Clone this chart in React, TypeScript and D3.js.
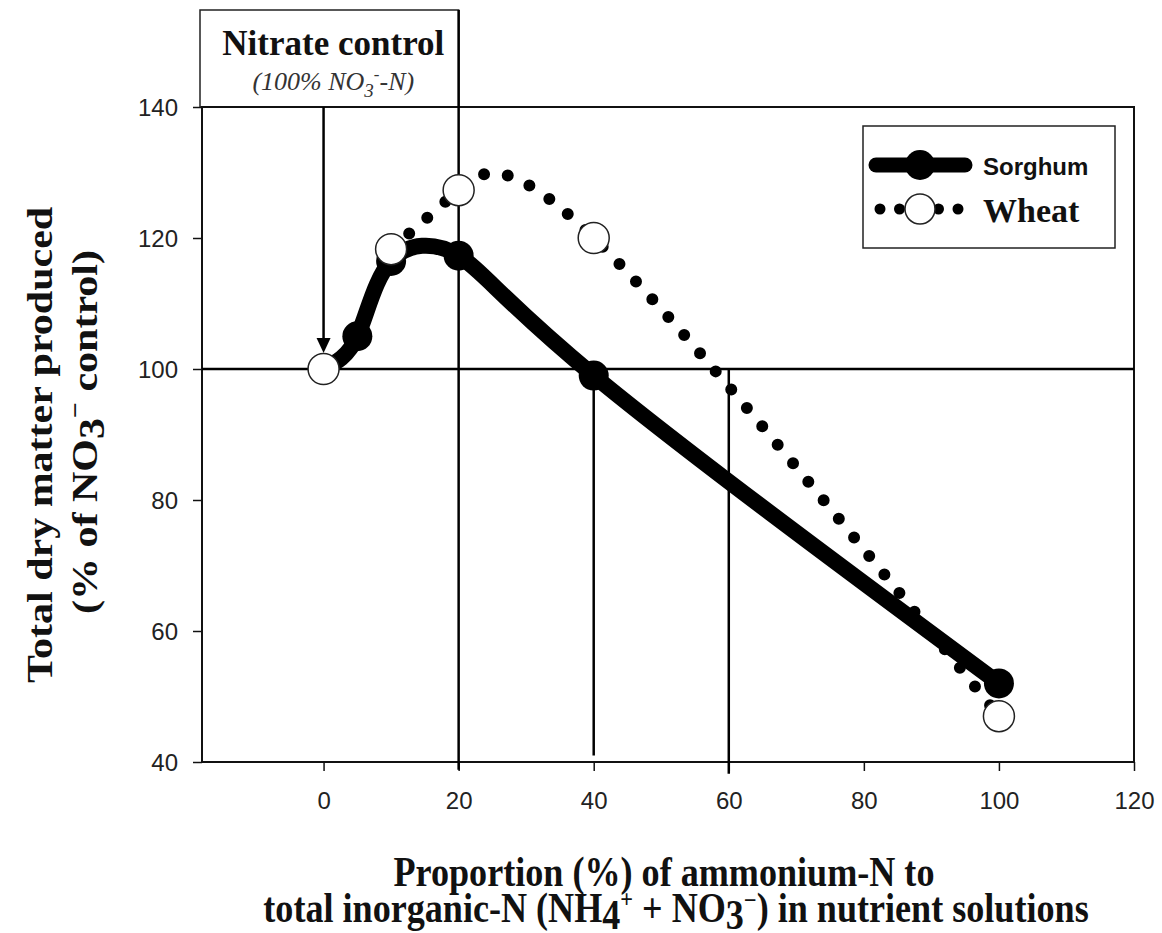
import React, { useEffect, useRef } from "react";
import * as d3 from "d3";

// proportion of NH4-N (%) and dry matter (% of nitrate control)
const sorghumPct = [0, 5, 10, 20, 40, 100];
const sorghumValues = [100, 105, 116.5, 117.3, 99, 52];
const wheatPct = [0, 10, 20, 40, 100];
const wheatValues = [100, 118.3, 127.3, 120, 47];

const xTicks = [0, 20, 40, 60, 80, 100, 120];
const yTicks = [40, 60, 80, 100, 120, 140];

// guide lines drawn on the plot
const guideY = 100;
const guideX = [20, 40, 60];
const guideFrom = [140, 100, 100];
const guideTo = [38.8, 41, 38.2];
const arrowX = 0;

const W = 1162;
const H = 933;
const margin = { top: 107, right: 28, bottom: 171, left: 202 };

const serif = "'Liberation Serif', 'Times New Roman', serif";
const sans = "'Liberation Sans', Arial, sans-serif";

export default function App() {
  const ref = useRef<SVGSVGElement>(null);

  useEffect(() => {
    const svg = d3.select(ref.current);
    svg.selectAll("*").remove();

    const x = d3.scaleLinear().domain([-18, 120]).range([margin.left, W - margin.right]);
    const y = d3.scaleLinear().domain([40, 140]).range([H - margin.bottom, margin.top]);

    const sorghum = sorghumPct.map((p, i) => [p, sorghumValues[i]] as [number, number]);
    const wheat = wheatPct.map((p, i) => [p, wheatValues[i]] as [number, number]);

    // nitrate control box above the plot
    const box = svg.append("g");
    box
      .append("rect")
      .attr("x", x(-18) - 2)
      .attr("y", 10)
      .attr("width", x(20) - x(-18) + 2)
      .attr("height", y(140) - 10)
      .attr("fill", "white")
      .attr("stroke", "#222")
      .attr("stroke-width", 1.5);
    const bx = (x(-18) + x(20)) / 2 + 3;
    box
      .append("text")
      .attr("x", bx)
      .attr("y", 55)
      .attr("text-anchor", "middle")
      .attr("font-family", serif)
      .attr("font-weight", "bold")
      .attr("font-size", 35)
      .attr("fill", "#111")
      .text("Nitrate control");
    const sub = box
      .append("text")
      .attr("x", bx)
      .attr("y", 90)
      .attr("text-anchor", "middle")
      .attr("font-family", serif)
      .attr("font-style", "italic")
      .attr("font-size", 26)
      .attr("fill", "#333");
    sub.append("tspan").text("(100% NO");
    sub.append("tspan").attr("dy", 7).attr("font-size", 19).text("3");
    sub.append("tspan").attr("dy", -17).attr("font-size", 17).text("-");
    sub.append("tspan").attr("dy", 10).text("-N)");

    // plot frame
    svg
      .append("rect")
      .attr("x", x(-18))
      .attr("y", y(140))
      .attr("width", x(120) - x(-18))
      .attr("height", y(40) - y(140))
      .attr("fill", "none")
      .attr("stroke", "#111")
      .attr("stroke-width", 2);

    const xAxis = svg
      .append("g")
      .attr("transform", `translate(0,${y(40)})`)
      .call(d3.axisBottom(x).tickValues(xTicks).tickSize(9).tickPadding(21).tickFormat(d3.format("d")));
    const yAxis = svg
      .append("g")
      .attr("transform", `translate(${x(-18)},0)`)
      .call(d3.axisLeft(y).tickValues(yTicks).tickSize(9).tickPadding(15).tickFormat(d3.format("d")));
    [xAxis, yAxis].forEach((g) => {
      g.select(".domain").remove();
      g.selectAll("line").attr("stroke", "#111").attr("stroke-width", 1.5);
      g.selectAll("text")
        .attr("font-family", sans)
        .attr("font-size", 24)
        .attr("fill", "#222");
    });
    yAxis.selectAll("text").attr("dy", "0.35em");

    // guide lines
    svg
      .append("line")
      .attr("x1", x(-18))
      .attr("x2", x(120))
      .attr("y1", y(guideY))
      .attr("y2", y(guideY))
      .attr("stroke", "#000")
      .attr("stroke-width", 2.5);
    guideX.forEach((gx, i) => {
      svg
        .append("line")
        .attr("x1", x(gx))
        .attr("x2", x(gx))
        .attr("y1", i === 0 ? 10 : y(guideFrom[i]))
        .attr("y2", y(guideTo[i]))
        .attr("stroke", "#000")
        .attr("stroke-width", 2.5);
    });

    // arrow to the control point
    const tipY = y(100) - 16;
    svg
      .append("line")
      .attr("x1", x(arrowX))
      .attr("x2", x(arrowX))
      .attr("y1", y(140))
      .attr("y2", tipY - 10)
      .attr("stroke", "#000")
      .attr("stroke-width", 2.5);
    svg
      .append("path")
      .attr("d", `M${x(arrowX)},${tipY}L${x(arrowX) - 7},${tipY - 15}L${x(arrowX) + 7},${tipY - 15}Z`)
      .attr("fill", "#000");

    const line = d3
      .line<[number, number]>()
      .x((d) => x(d[0]))
      .y((d) => y(d[1]))
      .curve(d3.curveNatural);

    // wheat dotted curve (the 0-10 part sits under the sorghum line)
    svg
      .append("path")
      .attr("d", line(wheat.slice(1)))
      .attr("fill", "none")
      .attr("stroke", "#000")
      .attr("stroke-width", 12)
      .attr("stroke-linecap", "round")
      .attr("stroke-dasharray", "0 24");

    // sorghum thick curve
    svg
      .append("path")
      .attr("d", line(sorghum))
      .attr("fill", "none")
      .attr("stroke", "#000")
      .attr("stroke-width", 16)
      .attr("stroke-linejoin", "round");

    svg
      .append("g")
      .selectAll("circle")
      .data(sorghum)
      .join("circle")
      .attr("cx", (d) => x(d[0]))
      .attr("cy", (d) => y(d[1]))
      .attr("r", 15)
      .attr("fill", "#000");

    svg
      .append("g")
      .selectAll("circle")
      .data(wheat)
      .join("circle")
      .attr("cx", (d) => x(d[0]))
      .attr("cy", (d) => y(d[1]))
      .attr("r", 15.5)
      .attr("fill", "white")
      .attr("stroke", "#222")
      .attr("stroke-width", 1.5);

    // legend
    const lg = svg.append("g");
    lg.append("rect")
      .attr("x", 863)
      .attr("y", 126)
      .attr("width", 252)
      .attr("height", 122)
      .attr("fill", "white")
      .attr("stroke", "#222")
      .attr("stroke-width", 1.5);
    lg.append("line")
      .attr("x1", 876)
      .attr("x2", 965)
      .attr("y1", 165)
      .attr("y2", 165)
      .attr("stroke", "#000")
      .attr("stroke-width", 15)
      .attr("stroke-linecap", "round");
    lg.append("circle").attr("cx", 920).attr("cy", 165).attr("r", 15).attr("fill", "#000");
    lg.append("text")
      .attr("x", 983)
      .attr("y", 175)
      .attr("font-family", sans)
      .attr("font-weight", "bold")
      .attr("font-size", 24)
      .attr("fill", "#111")
      .text("Sorghum");
    lg.append("line")
      .attr("x1", 880)
      .attr("x2", 960)
      .attr("y1", 209)
      .attr("y2", 209)
      .attr("stroke", "#000")
      .attr("stroke-width", 11)
      .attr("stroke-linecap", "round")
      .attr("stroke-dasharray", "0 19.5");
    lg.append("circle")
      .attr("cx", 920)
      .attr("cy", 209)
      .attr("r", 15)
      .attr("fill", "white")
      .attr("stroke", "#222")
      .attr("stroke-width", 1.5);
    lg.append("text")
      .attr("x", 983)
      .attr("y", 222)
      .attr("font-family", serif)
      .attr("font-weight", "bold")
      .attr("font-size", 34)
      .attr("fill", "#111")
      .text("Wheat");

    // axis titles (narrow bold serif)
    const titleFont = (t: d3.Selection<SVGTextElement, unknown, null, undefined>) =>
      t
        .attr("font-family", serif)
        .attr("font-weight", "bold")
        .attr("font-size", 42)
        .attr("fill", "#111")
        .attr("text-anchor", "middle");

    svg
      .append("text")
      .attr("transform", "translate(664,886) scale(0.86,1)")
      .call(titleFont)
      .text("Proportion (%) of ammonium-N to");
    const t2 = svg
      .append("text")
      .attr("transform", "translate(676,922) scale(0.86,1)")
      .call(titleFont);
    t2.append("tspan").text("total inorganic-N (NH");
    t2.append("tspan").attr("dy", 7).text("4");
    t2.append("tspan").attr("dy", -21).attr("font-size", 26).text("+");
    t2.append("tspan").attr("dy", 14).text(" + NO");
    t2.append("tspan").attr("dy", 7).text("3");
    t2.append("tspan").attr("dy", -20).attr("font-size", 26).text("\u2212");
    t2.append("tspan").attr("dy", 13).text(") in nutrient solutions");

    svg
      .append("text")
      .attr("transform", "translate(52,445) scale(0.86,1) rotate(-90)")
      .call(titleFont)
      .text("Total dry matter produced");
    const y2 = svg
      .append("text")
      .attr("transform", "translate(97,432) scale(0.86,1) rotate(-90)")
      .call(titleFont);
    y2.append("tspan").text("(% of NO");
    y2.append("tspan").attr("dy", 8).text("3");
    y2.append("tspan").attr("dy", -24).attr("font-size", 28).text("\u2212");
    y2.append("tspan").attr("dy", 16).text(" control)");
  }, []);

  return (
    <svg
      ref={ref}
      width={W}
      height={H}
      style={{ position: "absolute", left: 0, top: 0, background: "white" }}
    />
  );
}
